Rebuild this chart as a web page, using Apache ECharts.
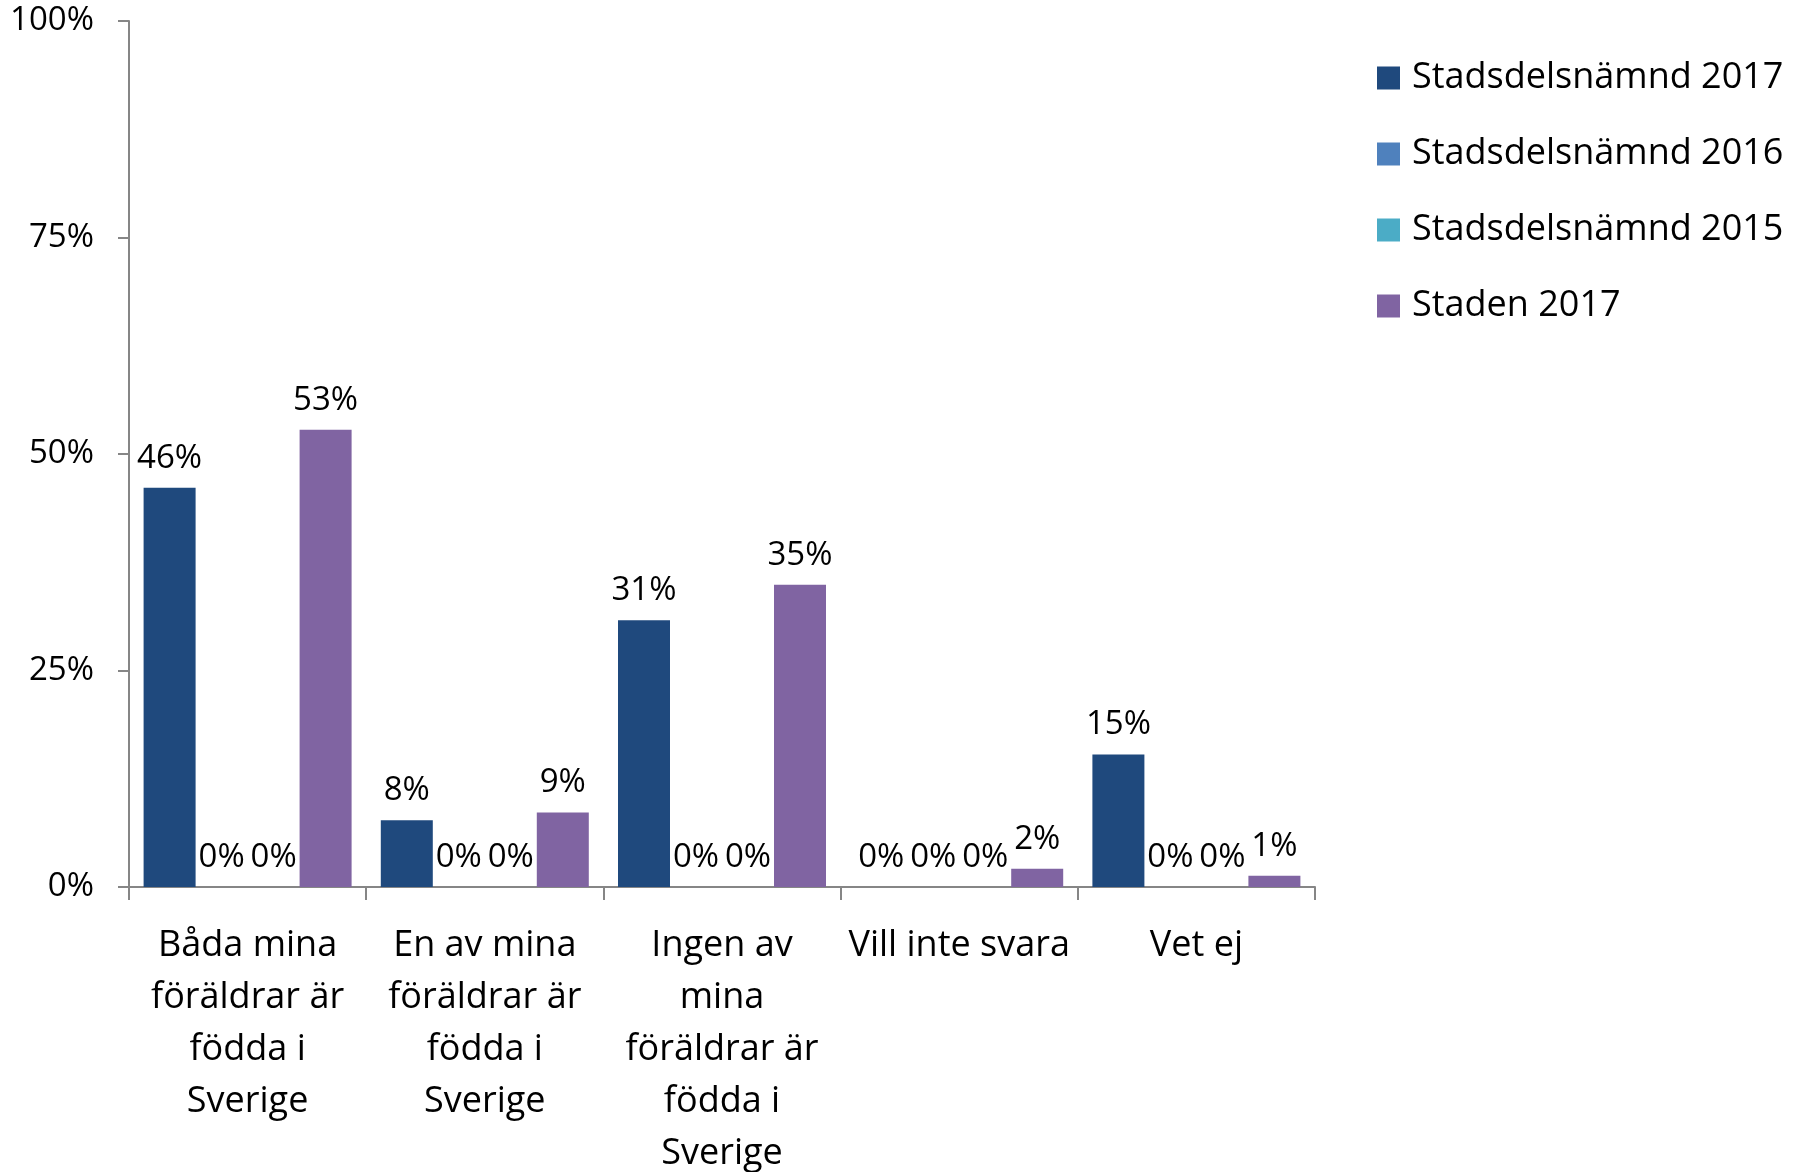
<!DOCTYPE html>
<html>
<head>
<meta charset="utf-8">
<script src="https://cdn.jsdelivr.net/npm/echarts@6/dist/echarts.min.js"></script>
<style>
  html, body { margin: 0; padding: 0; background: #fff; }
  #container { width: 1812px; height: 1172px; }
</style>
</head>
<body>
<div id="container"></div>
<script>
// kategorier (med radbrytningar som i originalet)
var categories = [
    'Båda mina\nföräldrar är\nfödda i\nSverige',
    'En av mina\nföräldrar är\nfödda i\nSverige',
    'Ingen av\nmina\nföräldrar är\nfödda i\nSverige',
    'Vill inte svara',
    'Vet ej'
];
var seriesNames = ['Stadsdelsnämnd 2017', 'Stadsdelsnämnd 2016', 'Stadsdelsnämnd 2015', 'Staden 2017'];
var sdn2017 = [46.1, 7.7, 30.8, 0, 15.3];
var sdn2016 = [0, 0, 0, 0, 0];
var sdn2015 = [0, 0, 0, 0, 0];
var staden2017 = [52.8, 8.6, 34.9, 2.1, 1.3];
var yTicks = [0, 25, 50, 75, 100];

var colors = ['#1F497D', '#4F81BD', '#4BACC6', '#8064A2'];
var font = 'Open Sans';

var myChart = echarts.init(document.getElementById('container'));

function makeSeries(name, data, color) {
    return {
        name: name,
        type: 'bar',
        data: data,
        barWidth: 52,
        barGap: '0%',
        itemStyle: { color: color },
        label: {
            show: true,
            position: 'top',
            distance: 13,
            color: '#000',
            fontFamily: font,
            fontSize: 33,
            formatter: function (p) { return Math.round(p.value) + '%'; }
        }
    };
}

var option = {
    backgroundColor: '#fff',
    animation: false,
    textStyle: { fontFamily: font },
    legend: {
        orient: 'vertical',
        left: 1377,
        top: 60,
        padding: 0,
        itemWidth: 23,
        itemHeight: 23,
        itemGap: 40,
        icon: 'rect',
        textStyle: { fontFamily: font, fontSize: 36, lineHeight: 36, color: '#000', padding: [0, 0, 0, 7] },
        data: seriesNames
    },
    grid: {
        left: 129,
        right: 497,
        top: 21,
        bottom: 285,
        containLabel: false,
        outerBoundsMode: 'none'
    },
    xAxis: {
        type: 'category',
        data: categories,
        axisLine: { lineStyle: { color: '#868686', width: 2 } },
        axisTick: { show: true, length: 13, lineStyle: { color: '#868686', width: 2 } },
        axisLabel: {
            interval: 0,
            margin: 33,
            color: '#000',
            fontFamily: font,
            fontSize: 36,
            lineHeight: 52,
            align: 'center'
        }
    },
    yAxis: {
        type: 'value',
        min: yTicks[0],
        max: yTicks[yTicks.length - 1],
        interval: 25,
        splitLine: { show: false },
        axisLine: { show: true, lineStyle: { color: '#868686', width: 2 } },
        axisTick: { show: true, length: 11, lineStyle: { color: '#868686', width: 2 } },
        axisLabel: {
            margin: 35,
            color: '#000',
            fontFamily: font,
            fontSize: 33,
            formatter: '{value}%'
        }
    },
    series: [
        makeSeries(seriesNames[0], sdn2017, colors[0]),
        makeSeries(seriesNames[1], sdn2016, colors[1]),
        makeSeries(seriesNames[2], sdn2015, colors[2]),
        makeSeries(seriesNames[3], staden2017, colors[3])
    ]
};

myChart.setOption(option);
</script>
</body>
</html>
